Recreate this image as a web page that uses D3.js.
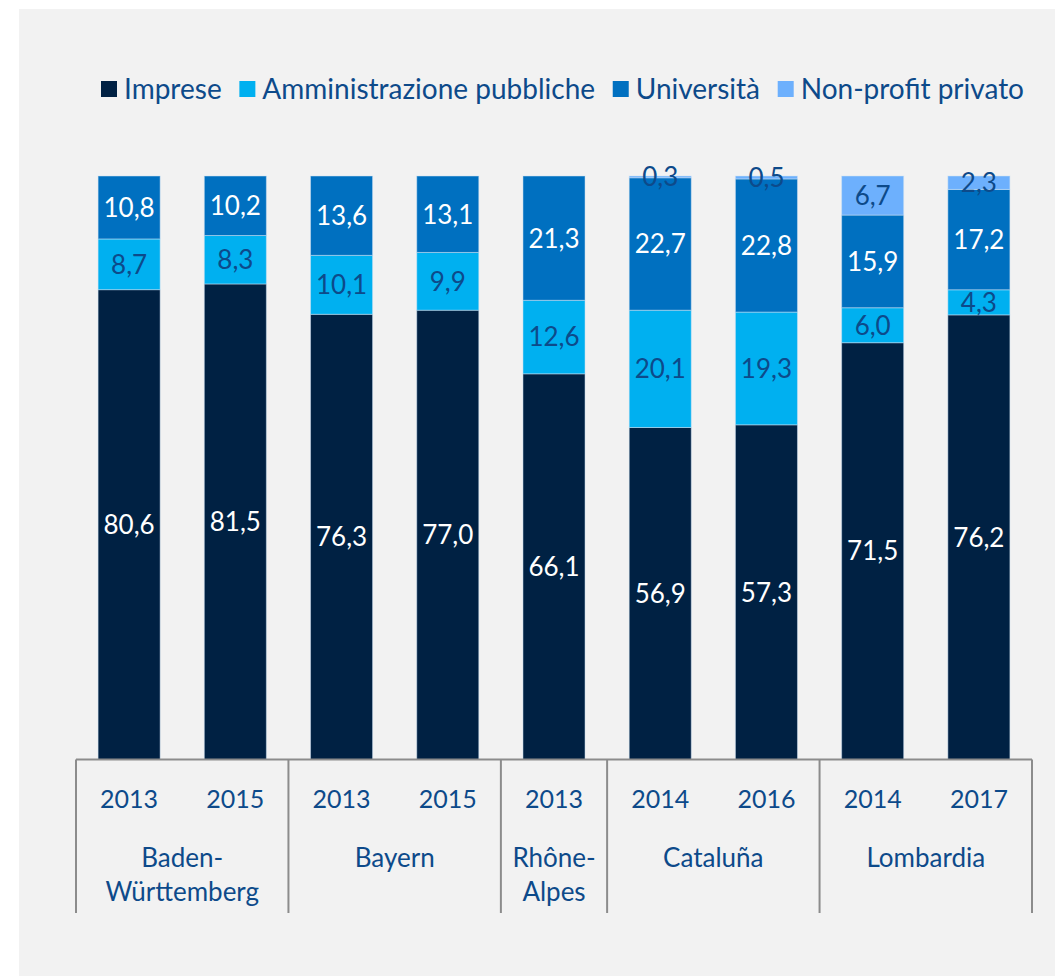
<!DOCTYPE html>
<html>
  <head>
    <meta charset="utf-8">
    <style>
      body {
        margin: 0;
        background: #ffffff;
      }

      text {
        font-family: Lato, "Noto Sans", sans-serif;
      }

    </style>
  </head>
  <body>
    <script src="https://cdn.jsdelivr.net/npm/d3@7"></script>
    <script type="text/javascript">
      // Spesa in R&S per settore, quote % (100% stacked)
      const groups = ['Baden-Württemberg', 'Bayern', 'Rhône-Alpes', 'Cataluña', 'Lombardia'];
      const groupLines = [['Baden-', 'Württemberg'], ['Bayern'], ['Rhône-', 'Alpes'], ['Cataluña'], ['Lombardia']];
      const barGroup = [0, 0, 1, 1, 2, 3, 3, 4, 4];
      const years = ['2013', '2015', '2013', '2015', '2013', '2014', '2016', '2014', '2017'];

      const seriesNames = ['Imprese', 'Amministrazione pubbliche', 'Università', 'Non-profit privato'];
      const imprese = [80.6, 81.5, 76.3, 77.0, 66.1, 56.9, 57.3, 71.5, 76.2];
      const amministrazione = [8.7, 8.3, 10.1, 9.9, 12.6, 20.1, 19.3, 6.0, 4.3];
      const universita = [10.8, 10.2, 13.6, 13.1, 21.3, 22.7, 22.8, 15.9, 17.2];
      const nonProfit = [0, 0, 0, 0, 0, 0.3, 0.5, 6.7, 2.3];

      const colors = ['#002143', '#00b0f0', '#0070c0', '#6db0fd'];
      const labelColors = ['#ffffff', '#0d4a8a', '#ffffff', '#0d4a8a'];
      const textBlue = '#0d4a8a';

      const width = 1055;
      const height = 976;
      const plotLeft = 76;
      const plotRight = 1032;
      const plotTop = 176;
      const plotBottom = 759.5;

      const svg = d3.select('body')
        .append('svg')
        .attr('width', width)
        .attr('height', height);

      svg.append('rect')
        .attr('x', 19)
        .attr('y', 9)
        .attr('width', width - 19)
        .attr('height', height - 9)
        .attr('fill', '#f2f2f2');

      const rows = years.map((yr, i) => ({
        id: i,
        year: yr,
        group: barGroup[i],
        'Imprese': imprese[i],
        'Amministrazione pubbliche': amministrazione[i],
        'Università': universita[i],
        'Non-profit privato': nonProfit[i]
      }));

      const x = d3.scaleBand()
        .domain(rows.map((d) => d.id))
        .range([plotLeft, plotRight])
        .paddingInner(0.416)
        .paddingOuter(0.208);

      const y = d3.scaleLinear()
        .domain([0, 1])
        .range([plotBottom, plotTop]);

      const stacked = d3.stack()
        .keys(seriesNames)
        .offset(d3.stackOffsetExpand)(rows);

      const layer = svg.selectAll('g.layer')
        .data(stacked)
        .join('g')
        .attr('class', 'layer')
        .attr('fill', (d, i) => colors[i]);

      layer.selectAll('rect')
        .data((d) => d.filter((p) => p[1] - p[0] > 0))
        .join('rect')
        .attr('x', (d) => x(d.data.id))
        .attr('y', (d) => y(d[1]))
        .attr('width', x.bandwidth())
        .attr('height', (d) => y(d[0]) - y(d[1]))
        .attr('stroke', '#cfe3f5')
        .attr('stroke-opacity', 0.5)
        .attr('stroke-width', 1);

      layer.selectAll('text')
        .data((d, i) => d.filter((p) => p[1] - p[0] > 0).map((p) => ({ p: p, key: d.key, idx: i })))
        .join('text')
        .attr('x', (d) => x(d.p.data.id) + x.bandwidth() / 2)
        .attr('y', (d) => y((d.p[0] + d.p[1]) / 2))
        .attr('dy', '0.36em')
        .attr('text-anchor', 'middle')
        .attr('font-size', 26)
        .attr('fill', (d) => labelColors[d.idx])
        .text((d) => d3.format('.1f')(d.p.data[d.key]).replace('.', ','));

      // axis
      const axis = svg.append('g')
        .attr('stroke', '#8c8c8c')
        .attr('stroke-width', 2);

      axis.append('line')
        .attr('x1', plotLeft)
        .attr('x2', plotRight)
        .attr('y1', plotBottom)
        .attr('y2', plotBottom);

      const bounds = [0];
      barGroup.forEach((g, i) => {
        if (i > 0 && g !== barGroup[i - 1]) bounds.push(i);
      });
      bounds.push(years.length);

      axis.selectAll('line.sep')
        .data(bounds)
        .join('line')
        .attr('class', 'sep')
        .attr('x1', (d) => plotLeft + d * x.step())
        .attr('x2', (d) => plotLeft + d * x.step())
        .attr('y1', plotBottom)
        .attr('y2', 913);

      svg.selectAll('text.year')
        .data(rows)
        .join('text')
        .attr('class', 'year')
        .attr('x', (d) => x(d.id) + x.bandwidth() / 2)
        .attr('y', 799)
        .attr('dy', '0.36em')
        .attr('text-anchor', 'middle')
        .attr('font-size', 25)
        .attr('fill', textBlue)
        .text((d) => d.year);

      const groupLabel = svg.selectAll('text.group')
        .data(groups)
        .join('text')
        .attr('class', 'group')
        .attr('text-anchor', 'middle')
        .attr('font-size', 26)
        .attr('fill', textBlue)
        .attr('transform', (d, i) => {
          const cx = plotLeft + (bounds[i] + bounds[i + 1]) / 2 * x.step();
          return `translate(${cx},858)`;
        });

      groupLabel.selectAll('tspan')
        .data((d, i) => groupLines[i])
        .join('tspan')
        .attr('x', 0)
        .attr('y', (d, i) => i * 34)
        .attr('dy', '0.36em')
        .text((d) => d);

      // legend: items spread from x=101 to x=1024
      const legend = svg.append('g')
        .attr('transform', 'translate(101,89)');

      const items = seriesNames.map((name, i) => {
        const item = legend.append('g');
        item.append('rect')
          .attr('x', 0)
          .attr('y', -8)
          .attr('width', 16)
          .attr('height', 16)
          .attr('fill', colors[i]);
        const t = item.append('text')
          .attr('x', 23)
          .attr('y', 0)
          .attr('dy', '0.36em')
          .attr('font-size', 28)
          .attr('fill', textBlue)
          .text(name);
        return { item: item, w: 23 + t.node().getComputedTextLength() };
      });
      const totalW = d3.sum(items, (d) => d.w);
      const gap = Math.max(8, (1024 - 101 - totalW) / (items.length - 1));
      let lx = 0;
      items.forEach((d) => {
        d.item.attr('transform', `translate(${lx},0)`);
        lx += d.w + gap;
      });

    </script>
  </body>
</html>
